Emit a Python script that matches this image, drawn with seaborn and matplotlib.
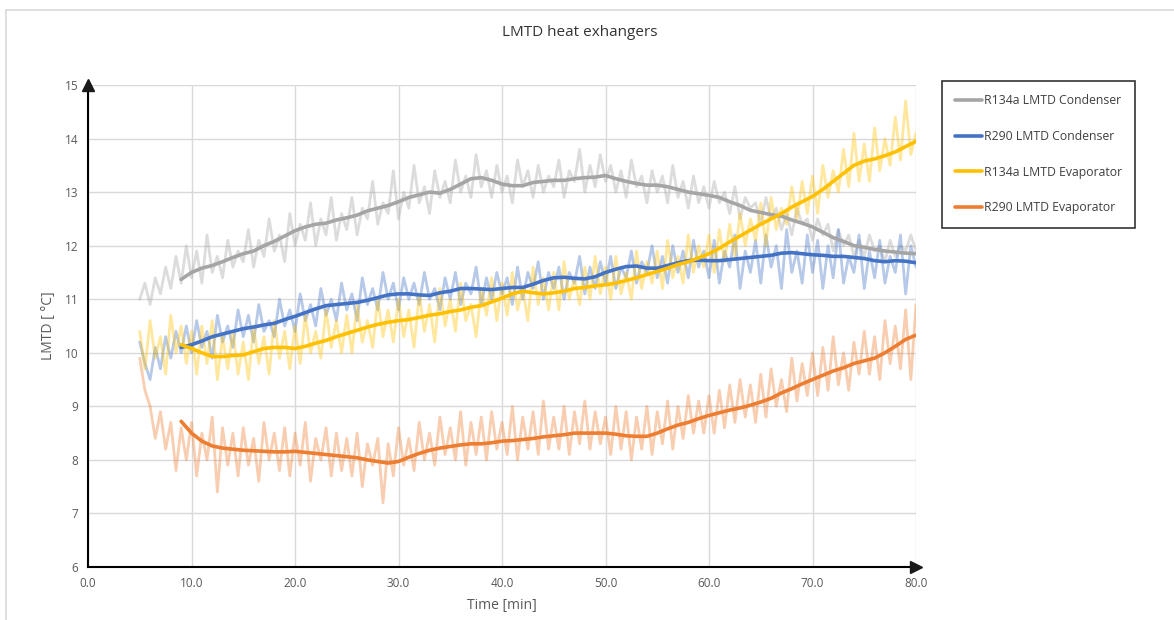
import numpy as np
import pandas as pd
import matplotlib
matplotlib.use("Agg")
import matplotlib.pyplot as plt
import seaborn as sns
from matplotlib.lines import Line2D

# ---------------- data ----------------
series_names = ["R134a LMTD Condenser", "R290 LMTD Condenser",
                "R134a LMTD Evaporator", "R290 LMTD Evaporator"]
series_colors = ["#A5A5A5", "#4472C4", "#FFC000", "#ED7D31"]

raw_time = np.arange(5.0, 80.01, 0.5)  # minutes

raw_r134a_cond = [
    11.0, 11.3, 10.9, 11.4, 11.1, 11.6, 11.2, 11.8, 11.3, 12.0,
    11.4, 11.9, 11.3, 12.2, 11.5, 11.8, 11.4, 12.1, 11.6, 11.9,
    11.7, 12.3, 11.6, 12.1, 11.8, 12.5, 11.9, 12.2, 11.7, 12.6,
    12.0, 12.4, 12.1, 12.8, 12.0, 12.5, 12.2, 12.9, 12.1, 12.6,
    12.3, 12.9, 12.2, 12.7, 12.5, 13.2, 12.4, 12.8, 12.6, 13.4,
    12.5, 13.0, 12.7, 13.5, 12.8, 13.1, 12.6, 13.4, 12.9, 13.2,
    12.8, 13.6, 13.0, 13.3, 12.9, 13.7, 13.1, 13.4, 12.9, 13.5,
    13.0, 13.3, 12.8, 13.6, 13.1, 13.4, 12.9, 13.5, 13.0, 13.3,
    13.1, 13.6, 12.9, 13.4, 13.2, 13.8, 13.0, 13.5, 13.1, 13.7,
    13.2, 13.5, 13.0, 13.4, 12.9, 13.6, 13.1, 13.3, 12.8, 13.4,
    13.0, 13.3, 12.8, 13.5, 12.9, 13.2, 12.7, 13.3, 12.8, 13.1,
    12.7, 13.2, 12.8, 13.0, 12.6, 13.1, 12.5, 12.9, 12.7, 12.8,
    12.4, 12.9, 12.5, 12.7, 12.3, 12.6, 12.2, 12.7, 12.4, 12.5,
    12.1, 12.5, 12.2, 12.4, 11.9, 12.3, 12.0, 12.2, 11.8, 12.1,
    11.8, 12.2, 11.9, 12.0, 11.7, 12.1, 11.8, 12.0, 11.9, 12.2,
    11.9]
raw_r290_cond = [
    10.2, 9.8, 9.5, 10.1, 9.7, 10.3, 9.9, 10.4, 10.0, 10.5,
    10.0, 10.6, 10.1, 10.4, 9.9, 10.7, 10.2, 10.5, 10.1, 10.8,
    10.3, 10.7, 10.2, 10.9, 10.4, 10.6, 10.3, 11.0, 10.5, 10.8,
    10.4, 11.1, 10.6, 10.9, 10.5, 11.2, 10.7, 11.0, 10.6, 11.3,
    10.8, 11.1, 10.6, 11.4, 10.9, 11.2, 10.8, 11.5, 11.0, 11.3,
    10.8, 11.4, 11.0, 11.3, 10.9, 11.5, 11.0, 11.2, 10.8, 11.4,
    11.0, 11.5, 10.9, 11.3, 11.1, 11.6, 10.9, 11.4, 11.0, 11.5,
    11.1, 11.4, 10.9, 11.6, 11.0, 11.5, 11.2, 11.7, 11.0, 11.5,
    11.2, 11.6, 11.0, 11.5, 11.3, 11.8, 11.1, 11.6, 11.2, 11.7,
    11.3, 11.8, 11.2, 11.6, 11.4, 11.9, 11.3, 11.7, 11.5, 12.0,
    11.4, 11.8, 11.3, 12.0, 11.5, 11.9, 11.4, 12.1, 11.6, 11.9,
    11.4, 12.1, 11.3, 11.9, 11.6, 12.2, 11.2, 11.9, 11.5, 12.1,
    11.3, 12.2, 11.6, 12.0, 11.2, 12.3, 11.5, 11.9, 11.3, 12.2,
    11.5, 12.1, 11.2, 12.0, 11.4, 12.3, 11.3, 11.8, 11.5, 12.2,
    11.2, 11.9, 11.4, 12.1, 11.3, 11.8, 11.5, 12.2, 11.1, 12.0,
    11.6]
raw_r134a_evap = [
    10.4, 9.7, 10.6, 9.9, 10.3, 9.6, 10.7, 10.0, 10.5, 9.8,
    10.4, 9.6, 10.5, 9.8, 10.6, 9.5, 10.3, 9.7, 10.4, 9.6,
    10.2, 9.5, 10.5, 9.8, 10.3, 9.6, 10.6, 9.9, 10.4, 9.7,
    10.5, 9.8, 10.7, 10.0, 10.4, 9.9, 10.8, 10.1, 10.6, 10.0,
    10.7, 10.0, 10.9, 10.2, 10.6, 10.1, 11.0, 10.3, 10.8, 10.2,
    11.0, 10.3, 10.8, 10.1, 11.1, 10.4, 10.9, 10.2, 11.2, 10.5,
    11.0, 10.4, 11.3, 10.6, 10.9, 10.3, 11.2, 10.7, 11.4, 10.6,
    11.3, 10.7, 11.5, 10.8, 11.2, 10.6, 11.6, 10.9, 11.4, 10.8,
    11.5, 10.8, 11.7, 11.0, 11.4, 10.9, 11.6, 11.0, 11.8, 11.1,
    11.6, 11.0, 11.8, 11.1, 11.5, 11.0, 11.9, 11.2, 11.7, 11.3,
    11.9, 11.2, 12.1, 11.4, 11.8, 11.3, 12.2, 11.5, 12.0, 11.6,
    12.2, 11.5, 12.3, 11.7, 12.4, 11.8, 12.6, 12.0, 12.5, 12.1,
    12.8, 12.0, 12.9, 12.3, 12.7, 12.4, 13.1, 12.5, 13.2, 12.6,
    13.3, 12.6, 13.5, 12.9, 13.4, 13.0, 13.8, 13.1, 14.1, 13.2,
    13.9, 13.2, 14.2, 13.4, 14.0, 13.5, 14.4, 13.6, 14.7, 13.7,
    14.1]
raw_r290_evap = [
    9.9, 9.3, 9.0, 8.4, 8.9, 8.2, 8.7, 7.8, 8.6, 8.0,
    8.7, 7.7, 8.5, 8.0, 8.8, 7.4, 8.6, 7.9, 8.5, 7.7,
    8.6, 7.9, 8.4, 7.6, 8.7, 8.0, 8.5, 7.8, 8.6, 7.7,
    8.5, 7.9, 8.7, 7.6, 8.4, 8.0, 8.6, 7.7, 8.5, 7.8,
    8.4, 7.7, 8.5, 7.5, 8.3, 7.9, 8.4, 7.2, 8.3, 7.7,
    8.6, 7.9, 8.4, 7.8, 8.7, 8.0, 8.5, 7.9, 8.8, 8.1,
    8.6, 8.0, 8.9, 7.9, 8.7, 8.1, 8.8, 8.0, 8.9, 8.2,
    8.7, 8.1, 9.0, 8.0, 8.8, 8.2, 8.9, 8.1, 9.1, 8.2,
    8.8, 8.2, 9.0, 8.1, 8.9, 8.3, 9.1, 8.2, 8.9, 8.3,
    8.8, 8.1, 9.0, 8.2, 8.9, 8.0, 8.8, 8.2, 9.0, 8.1,
    8.9, 8.3, 9.1, 8.2, 9.0, 8.4, 9.2, 8.5, 9.1, 8.5,
    9.2, 8.5, 9.3, 8.6, 9.4, 8.7, 9.5, 8.8, 9.4, 8.7,
    9.6, 8.8, 9.7, 9.0, 9.5, 8.9, 9.9, 9.1, 9.8, 9.2,
    10.0, 9.2, 10.1, 9.3, 10.3, 9.4, 10.0, 9.3, 10.2, 9.6,
    10.4, 9.6, 10.3, 9.5, 10.6, 9.8, 10.5, 9.7, 10.8, 9.5,
    10.9]

smooth_time = np.arange(9, 81, 1)  # minutes

smooth_r134a_cond = [
    11.37, 11.50, 11.58, 11.63, 11.70, 11.78, 11.85, 11.90, 12.00, 12.08,
    12.18, 12.28, 12.35, 12.40, 12.42, 12.48, 12.52, 12.57, 12.65, 12.70,
    12.75, 12.82, 12.90, 12.95, 13.00, 12.98, 13.05, 13.15, 13.25, 13.27,
    13.22, 13.15, 13.12, 13.12, 13.18, 13.20, 13.22, 13.22, 13.25, 13.27,
    13.28, 13.31, 13.25, 13.20, 13.16, 13.13, 13.13, 13.10, 13.05, 13.00,
    12.97, 12.94, 12.90, 12.82, 12.75, 12.66, 12.62, 12.58, 12.55, 12.48,
    12.42, 12.35, 12.25, 12.15, 12.08, 12.00, 11.97, 11.93, 11.90, 11.88,
    11.86, 11.85]
smooth_r290_cond = [
    10.10, 10.15, 10.22, 10.30, 10.35, 10.40, 10.45, 10.48, 10.52, 10.55,
    10.62, 10.68, 10.75, 10.82, 10.88, 10.90, 10.92, 10.94, 10.98, 11.03,
    11.08, 11.10, 11.10, 11.08, 11.07, 11.12, 11.15, 11.20, 11.20, 11.19,
    11.18, 11.20, 11.22, 11.22, 11.28, 11.35, 11.40, 11.41, 11.39, 11.38,
    11.42, 11.50, 11.56, 11.61, 11.62, 11.58, 11.58, 11.63, 11.68, 11.72,
    11.73, 11.72, 11.72, 11.74, 11.76, 11.78, 11.80, 11.82, 11.86, 11.87,
    11.85, 11.83, 11.82, 11.80, 11.80, 11.78, 11.76, 11.72, 11.70, 11.72,
    11.71, 11.68]
smooth_r134a_evap = [
    10.15, 10.08, 10.00, 9.93, 9.93, 9.95, 9.96, 10.02, 10.08, 10.10,
    10.10, 10.08, 10.12, 10.18, 10.23, 10.30, 10.36, 10.42, 10.48, 10.53,
    10.57, 10.60, 10.62, 10.66, 10.70, 10.73, 10.77, 10.80, 10.85, 10.88,
    10.95, 11.02, 11.10, 11.15, 11.12, 11.10, 11.12, 11.15, 11.20, 11.22,
    11.25, 11.27, 11.30, 11.35, 11.40, 11.46, 11.52, 11.58, 11.65, 11.70,
    11.77, 11.85, 11.95, 12.07, 12.18, 12.29, 12.40, 12.50, 12.60, 12.72,
    12.82, 12.92, 13.05, 13.20, 13.35, 13.50, 13.58, 13.62, 13.68, 13.75,
    13.85, 13.95]
smooth_r290_evap = [
    8.72, 8.50, 8.35, 8.26, 8.22, 8.20, 8.18, 8.17, 8.16, 8.15,
    8.15, 8.16, 8.14, 8.12, 8.10, 8.08, 8.06, 8.04, 8.00, 7.97,
    7.94, 7.97, 8.05, 8.12, 8.18, 8.22, 8.25, 8.28, 8.30, 8.30,
    8.32, 8.35, 8.36, 8.38, 8.40, 8.43, 8.45, 8.47, 8.50, 8.50,
    8.50, 8.50, 8.48, 8.45, 8.44, 8.44, 8.50, 8.58, 8.65, 8.70,
    8.77, 8.83, 8.88, 8.93, 8.97, 9.02, 9.08, 9.15, 9.25, 9.33,
    9.42, 9.50, 9.58, 9.66, 9.72, 9.80, 9.85, 9.90, 10.00, 10.12,
    10.25, 10.33]

x_ticks = [0, 10, 20, 30, 40, 50, 60, 70, 80]
x_tick_labels = ["0.0", "10.0", "20.0", "30.0", "40.0", "50.0", "60.0", "70.0", "80.0"]
y_ticks = [6, 7, 8, 9, 10, 11, 12, 13, 14, 15]

raw_values = [raw_r134a_cond, raw_r290_cond, raw_r134a_evap, raw_r290_evap]
smooth_values = [smooth_r134a_cond, smooth_r290_cond, smooth_r134a_evap, smooth_r290_evap]

raw_df = pd.concat([pd.DataFrame({"Time": raw_time, "LMTD": v, "Series": n})
                    for n, v in zip(series_names, raw_values)], ignore_index=True)
smooth_df = pd.concat([pd.DataFrame({"Time": smooth_time, "LMTD": v, "Series": n})
                       for n, v in zip(series_names, smooth_values)], ignore_index=True)

# ---------------- plot ----------------
sns.set_theme(style="white")
plt.rcParams["font.family"] = ["Open Sans", "DejaVu Sans"]

fig = plt.figure(figsize=(11.74, 6.2), dpi=100)
ax = fig.add_axes([88 / 1174, 1 - 567 / 620, (916 - 88) / 1174, (567 - 85) / 620])

palette = dict(zip(series_names, series_colors))

sns.lineplot(data=raw_df, x="Time", y="LMTD", hue="Series", palette=palette,
             ax=ax, linewidth=2.0, alpha=0.38, legend=False, estimator=None,
             sort=False, zorder=2)
sns.lineplot(data=smooth_df, x="Time", y="LMTD", hue="Series", palette=palette,
             ax=ax, linewidth=2.6, legend=False, estimator=None, sort=False,
             zorder=3)

ax.set_xlim(0, 80)
ax.set_ylim(6, 15)
ax.set_xticks(x_ticks)
ax.set_xticklabels(x_tick_labels)
ax.set_yticks(y_ticks)
ax.grid(True, color="#D9D9D9", linewidth=1.0)
ax.set_axisbelow(True)
ax.tick_params(axis="both", length=0, labelsize=8.5, colors="#595959", pad=7)
for s in ["top", "right"]:
    ax.spines[s].set_visible(False)
for s in ["left", "bottom"]:
    ax.spines[s].set_color("black")
    ax.spines[s].set_linewidth(1.5)
    ax.spines[s].set_zorder(5)

# arrow heads
ax.plot(1, 0, ">k", transform=ax.transAxes, clip_on=False, markersize=9, zorder=6)
ax.plot(0, 1, "^k", transform=ax.transAxes, clip_on=False, markersize=9, zorder=6)

ax.set_xlabel("Time [min]", fontsize=10, color="#595959", labelpad=6)
ax.set_ylabel("LMTD [ °C]", fontsize=10, color="#595959", labelpad=6)

fig.text(580 / 1174, 1 - 33 / 620, "LMTD heat exhangers", ha="center", va="center",
         fontsize=11, color="#333333")

handles = [Line2D([0], [0], color=c, linewidth=2.6) for c in series_colors]
leg = fig.legend(handles, series_names, loc="upper left",
                 bbox_to_anchor=(942 / 1174, 1 - 81 / 620),
                 frameon=True, fontsize=8.8, handlelength=2.2, handletextpad=0.1,
                 labelspacing=1.85, borderpad=1.1, borderaxespad=0, fancybox=False)
leg.get_frame().set_edgecolor("black")
leg.get_frame().set_linewidth(1.2)
for t in leg.get_texts():
    t.set_color("#404040")

# outer chart frame (light)
fig.add_artist(Line2D([6 / 1174, 6 / 1174], [0, 1 - 10 / 620], transform=fig.transFigure,
                      color="#D9D9D9", linewidth=1.2))
fig.add_artist(Line2D([6 / 1174, 1], [1 - 10 / 620, 1 - 10 / 620], transform=fig.transFigure,
                      color="#D9D9D9", linewidth=1.2))

fig.savefig("out.png", dpi=100, facecolor="white")
